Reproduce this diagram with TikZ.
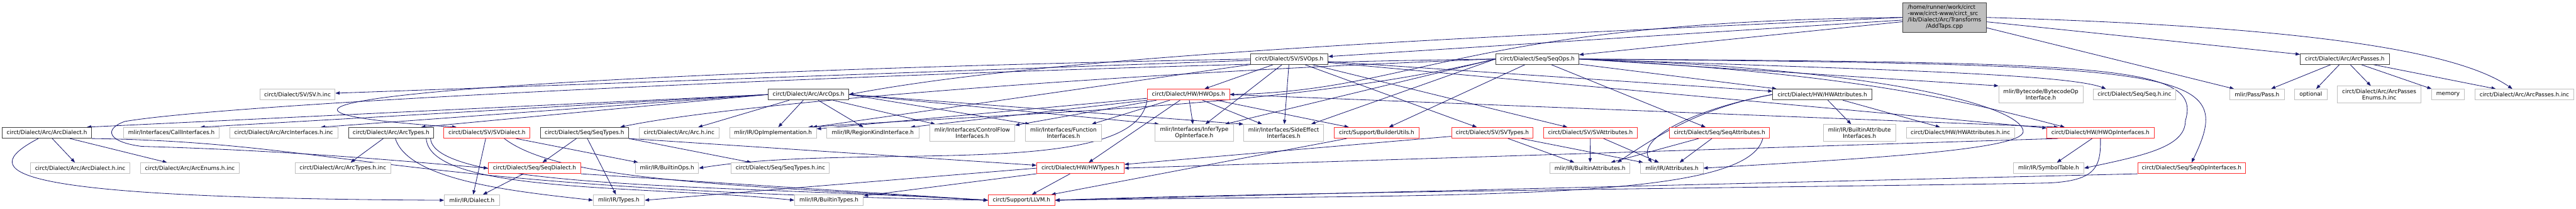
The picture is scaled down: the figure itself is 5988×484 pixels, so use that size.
\documentclass[tikz,border=0pt]{standalone}
\usepackage{fontspec}
\setmainfont{DejaVu Sans}
\usetikzlibrary{arrows.meta}
\definecolor{edgeNavy}{RGB}{25,25,112}
\definecolor{lineGray}{RGB}{191,191,191}
\definecolor{lineDark}{RGB}{64,64,64}
\definecolor{lineRed}{RGB}{255,48,48}
\definecolor{rootGray}{RGB}{191,191,191}
\pgfdeclarelayer{edges}
\pgfsetlayers{edges,main}

\begin{document}
\begin{tikzpicture}[x=1pt, y=-1pt,
    file/.style={rectangle, draw=lineGray, fill=white, line width=1.3pt, inner sep=0pt, minimum height=25pt, align=center, font=\fontsize{13}{14.5}\selectfont},
    doc/.style={file, draw=lineDark, line width=1.5pt},
    trunc/.style={file, draw=lineRed},
    rootfile/.style={file, draw=lineDark, fill=rootGray, line width=1.5pt, minimum height=69pt},
    tall/.style={minimum height=39pt},
    inc/.style={-{Triangle[length=10pt, width=7.5pt]}, line width=1.2pt, edgeNavy}
]
\useasboundingbox (0,0) rectangle (5988,484);

% the source file
\node[rootfile, minimum width=194pt] (addtaps) at (4520,40.5) {\begin{tabular}{@{}l@{}}/home/runner/work/circt\\-www/circt-www/circt\_src\\/lib/Dialect/Arc/Transforms\\\multicolumn{1}{@{}c@{}}{/AddTaps.cpp}\end{tabular}};

% direct includes
\node[doc, minimum width=180pt] (svops) at (2997,137) {circt/Dialect/SV/SVOps.h};
\node[doc, minimum width=193pt] (seqops) at (3573.5,137) {circt/Dialect/Seq/SeqOps.h};
\node[doc, minimum width=207pt] (arcpasses) at (5450.5,137) {circt/Dialect/Arc/ArcPasses.h};

\node[file, minimum width=175pt] (svinc) at (691.5,219.5) {circt/Dialect/SV/SV.h.inc};
\node[doc, minimum width=187pt] (arcops) at (1879.5,219.5) {circt/Dialect/Arc/ArcOps.h};
\node[trunc, minimum width=191pt] (hwops) at (2762.5,219.5) {circt/Dialect/HW/HWOps.h};
\node[doc, minimum width=230pt] (hwattr) at (4236,219.5) {circt/Dialect/HW/HWAttributes.h};
\node[file, tall, minimum width=196pt] (bytecode) at (4744,219.5) {mlir/Bytecode/BytecodeOp\\Interface.h};
\node[file, minimum width=191pt] (seqinc) at (4961.5,219.5) {circt/Dialect/Seq/Seq.h.inc};
\node[file, minimum width=127pt] (pass) at (5246.5,219.5) {mlir/Pass/Pass.h};
\node[file, minimum width=75pt] (optional) at (5371.5,219.5) {optional};
\node[file, tall, minimum width=195pt] (passenums) at (5530.5,219.5) {circt/Dialect/Arc/ArcPasses\\Enums.h.inc};
\node[file, minimum width=77pt] (memory) at (5690.5,219.5) {memory};
\node[file, minimum width=230pt] (passinc) at (5868,219.5) {circt/Dialect/Arc/ArcPasses.h.inc};

\node[doc, minimum width=208pt] (arcdialect) at (109,308.5) {circt/Dialect/Arc/ArcDialect.h};
\node[file, minimum width=223pt] (callif) at (398.5,308.5) {mlir/Interfaces/CallInterfaces.h};
\node[file, minimum width=251pt] (arcifinc) at (659.5,308.5) {circt/Dialect/Arc/ArcInterfaces.h.inc};
\node[doc, minimum width=198pt] (arctypes) at (909,308.5) {circt/Dialect/Arc/ArcTypes.h};
\node[trunc, minimum width=200pt] (svdialect) at (1132,308.5) {circt/Dialect/SV/SVDialect.h};
\node[doc, minimum width=205pt] (seqtypes) at (1358.5,308.5) {circt/Dialect/Seq/SeqTypes.h};
\node[file, minimum width=185pt] (arcinc) at (1578.5,308.5) {circt/Dialect/Arc/Arc.h.inc};
\node[file, minimum width=202pt] (opimpl) at (1797,308.5) {mlir/IR/OpImplementation.h};
\node[file, minimum width=214pt] (regionkind) at (2029,308.5) {mlir/IR/RegionKindInterface.h};
\node[file, tall, minimum width=198pt] (cflow) at (2260,308.5) {mlir/Interfaces/ControlFlow\\Interfaces.h};
\node[file, tall, minimum width=176pt] (funcif) at (2472,308.5) {mlir/Interfaces/Function\\Interfaces.h};
\node[file, tall, minimum width=182pt] (infertype) at (2776,308.5) {mlir/Interfaces/InferType\\OpInterface.h};
\node[file, tall, minimum width=186pt] (sideeffect) at (2984,308.5) {mlir/Interfaces/SideEffect\\Interfaces.h};
\node[trunc, minimum width=196pt] (builderutils) at (3200,308.5) {circt/Support/BuilderUtils.h};
\node[trunc, minimum width=190pt] (svtypes) at (3469,308.5) {circt/Dialect/SV/SVTypes.h};
\node[trunc, minimum width=218pt] (svattr) at (3697,308.5) {circt/Dialect/SV/SVAttributes.h};
\node[trunc, minimum width=232pt] (seqattr) at (3997,308.5) {circt/Dialect/Seq/SeqAttributes.h};
\node[file, tall, minimum width=169pt] (battrif) at (4322.5,308.5) {mlir/IR/BuiltinAttribute\\Interfaces.h};
\node[file, minimum width=252pt] (hwattrinc) at (4557,308.5) {circt/Dialect/HW/HWAttributes.h.inc};
\node[trunc, minimum width=249pt] (hwopif) at (4882.5,308.5) {circt/Dialect/HW/HWOpInterfaces.h};

\node[file, minimum width=231pt] (arcdialinc) at (186.5,390.5) {circt/Dialect/Arc/ArcDialect.h.inc};
\node[file, minimum width=229pt] (arcenums) at (441.5,390.5) {circt/Dialect/Arc/ArcEnums.h.inc};
\node[file, minimum width=222pt] (arctypesinc) at (797,390.5) {circt/Dialect/Arc/ArcTypes.h.inc};
\node[trunc, minimum width=215pt] (seqdialect) at (1242.5,390.5) {circt/Dialect/Seq/SeqDialect.h};
\node[file, minimum width=147pt] (builtinops) at (1550.5,390.5) {mlir/IR/BuiltinOps.h};
\node[file, minimum width=228pt] (seqtypesinc) at (1814,390.5) {circt/Dialect/Seq/SeqTypes.h.inc};
\node[trunc, minimum width=203pt] (hwtypes) at (2511.5,390.5) {circt/Dialect/HW/HWTypes.h};
\node[file, minimum width=186pt] (battr) at (3696,390.5) {mlir/IR/BuiltinAttributes.h};
\node[file, minimum width=145pt] (attr) at (3886.5,390.5) {mlir/IR/Attributes.h};
\node[file, minimum width=164pt] (symtab) at (4762,390.5) {mlir/IR/SymbolTable.h};
\node[trunc, minimum width=251pt] (seqopif) at (5094.5,390.5) {circt/Dialect/Seq/SeqOpInterfaces.h};

\node[file, minimum width=128pt] (dialect) at (1097,465) {mlir/IR/Dialect.h};
\node[file, minimum width=119pt] (types) at (1438.5,465) {mlir/IR/Types.h};
\node[file, minimum width=160pt] (btypes) at (1927,465) {mlir/IR/BuiltinTypes.h};
\node[trunc, minimum width=155pt] (llvm) at (2374.5,465) {circt/Support/LLVM.h};

\begin{pgfonlayer}{edges}
% AddTaps.cpp
\draw[inc] (addtaps.west) .. controls (3600,80) and (2500,120) .. (arcops.east);
\draw[inc] (addtaps.west) .. controls (3400,50) and (3300,210) .. (hwops.east);
\draw[inc] (addtaps.east) .. controls (5300,60) and (5700,110) .. ([xshift=-28pt]passinc.north);
\foreach \t in {svops,seqops,arcpasses,pass}
  \draw[inc] (addtaps) -- (\t);

% ArcPasses.h
\foreach \t in {pass,optional,passenums,memory,passinc}
  \draw[inc] (arcpasses) -- (\t);

% SVOps.h
\foreach \t in {svinc,hwops,hwattr,hwopif,svattr,svtypes,opimpl,infertype,sideeffect}
  \draw[inc] (svops) -- (\t);
\draw[inc] (svops.west) .. controls (1200,170) and (300,245) .. ([xshift=30pt]svdialect.north west);

% SeqOps.h
\foreach \t in {seqattr,hwattr,builderutils}
  \draw[inc] (seqops) -- (\t);
\draw[inc] (seqops.east) -- (bytecode.north west);
\draw[inc] (seqops.west) -- ([xshift=-20pt]infertype.north east);
\draw[inc] (seqops.west) -- ([xshift=-30pt]sideeffect.north east);
\draw[inc] (seqops.west) .. controls (3000,250) and (2400,260) .. ([xshift=-20pt]opimpl.north east);
\draw[inc] (seqops.west) .. controls (2600,170) and (1700,240) .. ([xshift=-20pt]seqtypes.north east);
\draw[inc] (seqops.west) .. controls (2500,150) and (600,230) .. (290,282) .. controls (240,300) and (250,330) .. (330,340) .. controls (700,350) and (1000,380) .. (seqdialect.west);
\draw[inc] (seqops.east) .. controls (4300,160) and (4800,170) .. ([xshift=30pt]seqinc.north west);
\draw[inc] (seqops.east) .. controls (4300,170) and (4550,230) .. ([xshift=42pt]hwopif.north west);
\draw[inc] (seqops.east) .. controls (5100,150) and (5200,160) .. (seqopif.north);
\draw[inc] (seqops.east) .. controls (4900,145) and (5120,150) .. (5080,280) .. controls (5080,340) and (4990,360) .. (symtab.east);
\draw[inc] (seqops.east) .. controls (4400,160) and (4700,250) .. (4703,305) .. controls (4705,350) and (4300,370) .. (attr.east);

% ArcOps.h
\draw[inc] (arcops.west) -- ([xshift=-12pt]arcdialect.north east);
\draw[inc] (arcops.west) -- ([xshift=-45pt]callif.north east);
\draw[inc] (arcops.west) -- ([xshift=-40pt]arcifinc.north east);
\draw[inc] (arcops.west) -- ([xshift=-30pt]arctypes.north east);
\foreach \t in {arcinc,opimpl,regionkind,cflow}
  \draw[inc] (arcops) -- (\t);
\draw[inc] (arcops.east) -- ([xshift=10pt]funcif.north west);
\draw[inc] (arcops.east) -- ([xshift=10pt]infertype.north west);
\draw[inc] (arcops.east) -- (sideeffect.north west);

% HWOps.h
\foreach \t in {funcif,hwtypes,infertype,sideeffect,builderutils,cflow,opimpl}
  \draw[inc] (hwops) -- (\t);
\draw[inc] (hwops.south west) -- ([xshift=-20pt]regionkind.north east);
\draw[inc] (hwops.east) -- ([xshift=27pt]hwopif.north west);
\draw[inc] (hwops.south west) .. controls (2640,420) and (2000,330) .. (builtinops.east);

% HWAttributes.h
\draw[inc] (hwattr) -- (battrif);
\draw[inc] (hwattr) -- (hwattrinc);
\draw[inc] (hwattr.west) .. controls (3950,250) and (3845,320) .. ([xshift=-30pt]battr.north east);
\draw[inc] (hwattr.west) .. controls (3950,250) and (3800,320) .. ([xshift=26pt]attr.north west);

% ArcDialect.h, ArcTypes.h
\draw[inc] (arcdialect) -- (arcdialinc);
\draw[inc] (arcdialect) -- (arcenums);
\draw[inc] ([xshift=-20pt]arcdialect.south) .. controls (-60,400) and (0,460) .. (dialect.west);
\draw[inc] (arcdialect.south east) .. controls (800,330) and (900,440) .. (llvm.west);
\draw[inc] (arctypes) -- (arctypesinc);
\draw[inc] ([xshift=10pt]arctypes.south) .. controls (950,420) and (1200,445) .. (types.west);
\draw[inc] ([xshift=-18pt]arctypes.south east) .. controls (1000,450) and (1500,430) .. (btypes.west);
\draw[inc] ([xshift=-8pt]arctypes.south east) .. controls (1010,440) and (1700,430) .. (llvm.west);

% SV / Seq dialects and types
\draw[inc] (svdialect) -- (dialect);
\draw[inc] (svdialect) -- (builtinops);
\draw[inc] ([xshift=40pt]svdialect.south) .. controls (1300,420) and (1700,430) .. (llvm.west);
\draw[inc] (seqtypes) -- (seqdialect);
\draw[inc] (seqtypes) -- (types);
\draw[inc] (seqtypes.south east) -- (seqtypesinc);
\draw[inc] (seqtypes.south east) -- (hwtypes);
\draw[inc] (seqdialect) -- (dialect);
\draw[inc] (seqdialect.south east) -- (llvm.west);
\draw[inc] (hwtypes) -- (llvm);
\draw[inc] (hwtypes) -- (btypes);
\draw[inc] (hwtypes.west) -- (types.east);
\draw[inc] (builderutils) -- (llvm);
\draw[inc] (svtypes) -- (hwtypes);
\foreach \s in {svtypes,svattr,seqattr} {
  \draw[inc] (\s) -- (battr);
  \draw[inc] (\s) -- (attr);
}
\draw[inc] ([xshift=-16pt]seqattr.south east) .. controls (4060,470) and (3400,450) .. (llvm.east);

% interfaces
\draw[inc] (hwopif) -- (symtab);
\draw[inc] ([xshift=27pt]hwopif.south west) -- (hwtypes.east);
\draw[inc] (hwopif.south) .. controls (4884,390) and (4870,420) .. (4760,425) .. controls (4200,435) and (3000,445) .. (llvm.east);
\draw[inc] (seqopif.south west) -- (llvm.east);
\end{pgfonlayer}

\end{tikzpicture}
\end{document}
